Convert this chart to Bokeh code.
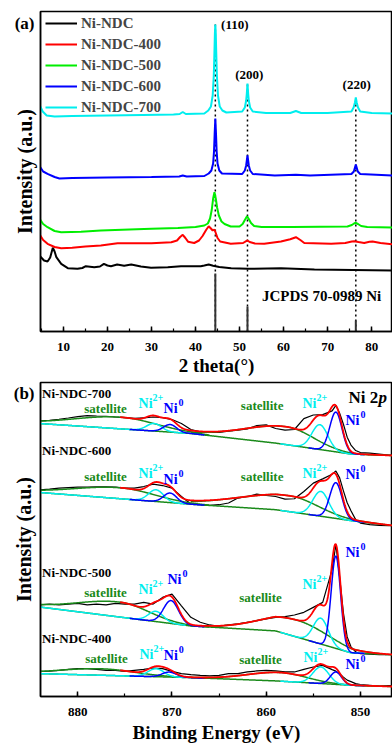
import numpy as np
from bokeh.plotting import figure
from bokeh.models import (Range1d, SingleIntervalTicker, FixedTicker, Legend,
                          LegendItem, ColumnDataSource)
from bokeh.layouts import column
from bokeh.embed import file_html
from bokeh.resources import INLINE
from bokeh.core.properties import value

FONT = "Liberation Serif"

# ======================= (a) XRD data =======================
xrd_names = ["Ni-NDC", "Ni-NDC-400", "Ni-NDC-500", "Ni-NDC-600", "Ni-NDC-700"]
xrd_colors = ["#000000", "#FF0000", "#00EE00", "#0000FF", "#00EEEE"]

tt_ndc = [4.75, 5.6, 6.4, 7.0, 7.6, 8.0, 8.4, 9.5, 11.0, 13.2, 14.3, 15.1, 17.0, 18.3, 19.2, 20.0,
          20.8, 22.2, 23.8, 25.4, 27.6, 29.9, 33.7, 36.7, 41.2, 42.0, 43.0, 44.0, 45.4, 48.1, 51.9,
          59.4, 67.0, 85.0]
int_ndc = [75, 71, 70, 74, 83.7, 80, 74.3, 67.7, 63.3, 62.7, 63.5, 65.3, 64.3, 65, 67.7, 66,
           65.3, 67, 65.7, 67, 65, 63.7, 64.3, 65.3, 65.3, 66, 67, 65.8, 64.5, 63.3, 62.7,
           63.3, 62, 61]

tt_400 = [4.75, 5.4, 6.4, 8.0, 9.5, 12, 15, 18.5, 22.3, 30, 34.5, 35.8, 36.5, 37.1, 37.7, 38.3,
          39.7, 40.8, 41.6, 42.4, 43.0, 43.5, 43.9, 44.3, 44.6, 45.0, 45.6, 48, 50.8, 51.5, 51.8,
          52.3, 53.5, 55.6, 59.4, 61.5, 62.8, 63.8, 64.7, 70.8, 74, 75.5, 76.1, 77, 78.3, 79.5,
          80.2, 82, 85]
int_400 = [96, 91.5, 87.7, 84.5, 83.3, 83.8, 85, 86, 88.3, 88.3, 89.3, 91, 94.5, 96.7, 93.5, 89.8,
           88.5, 91, 95.5, 101.5, 105.3, 103, 101, 102, 98.5, 93.5, 90, 87.7, 88.5, 90.3, 91,
           89.5, 88, 87.7, 90, 92.3, 94.3, 91.5, 88.5, 87.7, 88.5, 90, 90.3, 89.5, 88.5, 89.8,
           90, 88.5, 87]

tt_500 = [4.75, 5.4, 6.4, 8, 9.5, 14, 18.5, 25, 30, 36, 40, 42, 42.8, 43.3, 43.7, 44.0, 44.3,
          44.6, 44.9, 45.3, 45.9, 46.6, 48, 50.0, 50.7, 51.2, 51.7, 52.1, 52.6, 53.3, 55, 62,
          74.5, 75.5, 76.0, 76.4, 76.9, 77.6, 79, 85]
int_500 = [111.7, 107.5, 104.3, 100.5, 99.3, 99.8, 101, 102, 102.7, 103.5, 104.5, 106, 108, 113,
           122, 133, 139.3, 133, 124, 116, 110, 107.5, 105, 105, 107.5, 111.5, 115.3, 112.5,
           108.5, 105.5, 104.5, 104.5, 105, 106.5, 108, 108.7, 107.5, 105.5, 104.5, 104]

tt_600 = [4.75, 5.4, 6.4, 8, 9.1, 12, 20, 30, 36.3, 37.1, 38, 42, 43.0, 43.6, 44.0, 44.2, 44.35,
          44.5, 44.65, 44.8, 45.0, 45.4, 46.0, 50.6, 51.2, 51.5, 51.8, 52.1, 52.4, 53.0, 58, 62.8,
          66, 75.4, 75.95, 76.4, 76.85, 77.4, 85]
int_600 = [164.3, 160, 157.7, 154.5, 153, 153.5, 154, 154.5, 155, 156, 155, 155.5, 158, 161, 168,
           180, 198, 213, 198, 180, 168, 161, 158, 157.5, 161, 166, 176, 166, 161, 157.5, 156,
           156.7, 156, 157.5, 160, 167, 160, 157.5, 156]

tt_700 = [4.75, 5.3, 6.2, 8, 12, 20, 28, 35, 36.4, 37.1, 37.8, 42, 42.9, 43.5, 43.9, 44.15, 44.3,
          44.4, 44.5, 44.6, 44.7, 44.85, 45.1, 45.5, 46.1, 47, 50.6, 51.2, 51.5, 51.65, 51.8,
          51.95, 52.1, 52.4, 53.0, 56, 61.5, 62.8, 64, 70, 75.4, 75.9, 76.2, 76.4, 76.6, 76.9,
          77.4, 80, 85]
int_700 = [225, 220, 216, 215, 215.5, 216, 216.5, 217, 217.5, 219.5, 217.5, 218, 221, 225, 236,
           256, 280, 298, 307, 298, 280, 256, 236, 225, 221, 219, 220, 224, 231, 238, 248, 238,
           231, 224, 220, 218.5, 218.5, 220.5, 218.5, 218.5, 220, 224, 229, 234, 229, 224, 220,
           218.5, 218]

hkl_labels = ["(110)", "(200)", "(220)"]
hkl_pos = [44.5, 51.8, 76.4]
hkl_top = [307, 248, 234]          # top of the dotted guide lines
jcpds_int = [58, 25, 11]           # JCPDS 70-0989 Ni reference sticks

# ======================= (b) XPS data =======================
be_raw = [884, 883, 882, 881, 880, 879, 878, 877, 876, 875, 874, 873, 872, 871, 870, 869, 868,
          867, 866, 865, 864, 863, 862, 861, 860, 859, 858, 857, 856, 855, 854, 853, 852.6,
          852.2, 851.8, 851.4, 851, 850.5, 850, 849, 848, 847, 846.5]
raw_700 = [277.3, 278, 279, 280.3, 281.7, 282.7, 282.3, 282, 281.3, 280.7, 280, 280.3, 281.3,
           280.7, 278.7, 274.7, 268.7, 266.3, 265.7, 265.7, 267, 268, 269.3, 272.7, 273.3, 269.7,
           268, 268.7, 279.7, 283.3, 283.7, 287.5, 293, 285, 274, 261, 253, 247.5, 245.5, 245,
           244, 243, 243]
raw_600 = [208, 208.7, 209.7, 210.3, 210.7, 210.7, 211, 211, 210.7, 209.7, 209.7, 211.3, 213.7,
           212.3, 209.7, 201.3, 193.7, 193, 192.3, 193, 194.7, 199.7, 201.3, 203.7, 202.3, 201.3,
           198.7, 199, 206.3, 214.7, 219, 223.7, 227, 220, 207, 195, 187, 178, 174.5, 173,
           172.3, 172, 172]
raw_500 = [92.3, 93, 92.3, 93, 93.7, 92.3, 93, 92.3, 93.7, 93, 93, 94.7, 93, 99.7, 103, 91.3,
           79.7, 74.7, 72, 70.7, 72, 73, 74.7, 76.3, 78, 79.7, 80.3, 82, 84.7, 89.7, 94.7, 128,
           153, 120, 84, 60, 50, 45, 43, 42.5, 42, 42, 42]
raw_400 = [25.3, 25.5, 26.3, 27.3, 28, 28, 27.3, 26.3, 26.3, 25.3, 26.3, 27.3, 28.7, 28, 25.3,
           23, 22, 21.3, 20.7, 21.3, 23, 23, 24.7, 25.7, 26.3, 25.7, 24.7, 24.7, 27.3, 29.7, 31.3,
           27, 25.5, 23, 19.5, 16.5, 15, 13, 12, 11.3, 10.5, 11, 11]

# Shirley-type background (binding energy nodes, intensity)
bg_be = [884, 868, 859, 851, 846.5]
bg_700 = [274.7, 264.7, 255, 244, 242.5]
bg_600 = [205.3, 193.5, 188, 177, 172]
bg_500 = [90, 71, 66, 44, 42]
bg_400 = [23, 19, 15.7, 11.3, 10]

# Fitted components: Ni0 2p3/2, Ni2+ 2p3/2, sat 2p3/2, Ni0 2p1/2, Ni2+ 2p1/2, sat 2p1/2
comp_kind = ["Ni0", "Ni2+", "sat", "Ni0", "Ni2+", "sat"]
cen_700 = [852.6, 854.3, 857.8, 870.2, 871.9, 875.5]
hgt_700 = [40, 25, 18, 7.6, 7.6, 11.7]
sgl_700 = [0.65, 0.85, 2.8, 0.7, 0.8, 3.8]
sgh_700 = [0.65, 0.85, 4.5, 0.7, 0.8, 4.8]
cen_600 = [852.6, 854.2, 857.5, 870.2, 871.7, 875.5]
hgt_600 = [36, 25, 16, 9.6, 11.8, 11]
sgl_600 = [0.65, 0.85, 3.0, 0.7, 0.8, 3.6]
sgh_600 = [0.65, 0.85, 5.5, 0.7, 0.8, 4.8]
cen_500 = [852.6, 854.2, 856.7, 870.1, 871.7, 875.5]
hgt_500 = [93, 26, 17, 23, 10.3, 15]
sgl_500 = [0.5, 0.8, 3.4, 0.8, 0.8, 3.0]
sgh_500 = [0.5, 0.8, 3.9, 0.8, 0.8, 4.5]
cen_400 = [852.6, 854.2, 858.5, 870.3, 871.7, 877.5]
hgt_400 = [12.5, 16.6, 8.7, 5, 8, 6.5]
sgl_400 = [0.6, 0.85, 2.8, 0.75, 0.85, 3.5]
sgh_400 = [0.6, 0.85, 3.5, 0.75, 0.85, 4.5]

xps_names = ["Ni-NDC-700", "Ni-NDC-600", "Ni-NDC-500", "Ni-NDC-400"]
name_y = [304.7, 248, 124.7, 58]
sat_lab_be = [877.05, 860.43, 877.05, 860.43, 877.05, 860.6, 876.95, 860.6]
sat_lab_y = [290, 293, 221.3, 221.3, 104.7, 99.7, 38.7, 37.3]
ni2_lab_be = [873.55, 856.15, 873.55, 856.15, 873.55, 856.15, 873.45, 856.05]
ni2_lab_y = [294.7, 295, 224.7, 224.7, 108, 113, 42, 39.7]
ni0_lab_be = [870.9, 851.58, 870.9, 851.58, 870.48, 851.58, 870.87, 851.58]
ni0_lab_y = [289.7, 278, 218, 223, 118, 144.7, 41.3, 32]

# ======================= styling helpers =======================
C_BLUE, C_CYAN, C_GREEN, C_RED = "#0000FF", "#00EEEE", "#1A8A1A", "#FF0000"
comp_color = {"Ni0": C_BLUE, "Ni2+": C_CYAN, "sat": C_GREEN}
win_lo = [849.5, 849.5, 848.0, 866.5, 868.5, 866.0]
win_hi = [855.5, 858.5, 868.0, 874.5, 884.0, 884.0]


def style(p, xlab, ylab, label_standoff, title_standoff, panel_tag, tag_y):
    p.xgrid.visible = False
    p.ygrid.visible = False
    p.outline_line_color = "black"
    p.outline_line_width = 1.5
    p.outline_line_alpha = 1.0
    for ax in p.xaxis:
        ax.axis_line_width = 1.5
        ax.major_tick_in = 5
        ax.major_tick_out = 0
        ax.minor_tick_in = 3
        ax.minor_tick_out = 0
        ax.major_tick_line_width = 1.5
        ax.minor_tick_line_width = 1.2
        ax.major_label_text_font = FONT
        ax.major_label_text_font_style = "bold"
        ax.major_label_text_font_size = "13px"
        ax.major_label_text_color = "black"
        ax.major_label_standoff = label_standoff
        ax.axis_label = xlab
        ax.axis_label_text_font = FONT
        ax.axis_label_text_font_style = "bold"
        ax.axis_label_text_font_size = "19px"
        ax.axis_label_text_color = "black"
        ax.axis_label_standoff = title_standoff
    for ax in p.yaxis:
        # the panel tag "(a)"/"(b)" is shown as the single label of the left axis
        ax.ticker = FixedTicker(ticks=[tag_y])
        ax.major_label_overrides = {tag_y: panel_tag}
        ax.major_tick_line_color = None
        ax.minor_tick_line_color = None
        ax.major_tick_in = 0
        ax.major_tick_out = 0
        ax.minor_tick_in = 0
        ax.minor_tick_out = 0
        ax.major_label_standoff = 6
        ax.major_label_text_font = FONT
        ax.major_label_text_font_style = "bold"
        ax.major_label_text_font_size = "17px"
        ax.major_label_text_color = "black"
        ax.axis_line_width = 1.5
        ax.axis_label = ylab
        ax.axis_label_text_font = FONT
        ax.axis_label_text_font_style = "bold"
        ax.axis_label_text_font_size = "20px"
        ax.axis_label_text_color = "black"
        ax.axis_label_standoff = -24


def txt(p, x, y, s, size, color="black", style_="bold", align="left", xo=0, yo=0):
    src = ColumnDataSource(dict(x=x, y=y, t=s))
    p.text(x="x", y="y", text="t", source=src, text_font=value(FONT), text_font_size=size,
           text_font_style=style_, text_color=color, text_align=align,
           text_baseline="middle", x_offset=xo, y_offset=yo)


# ======================= panel (a) =======================
p1 = figure(width=392, height=378, x_range=Range1d(4.8, 84.73), y_range=Range1d(0, 320),
            output_backend="svg", toolbar_location=None, min_border_left=40,
            min_border_right=0, min_border_top=11, min_border_bottom=47)
p1.xaxis.ticker = SingleIntervalTicker(interval=10, num_minor_ticks=2)
style(p1, "2 theta(°)", "Intensity (a.u.)", 11, 1, "(a)", 308)

p1.segment(x0=hkl_pos, y0=[0] * 3, x1=hkl_pos, y1=hkl_top, line_color="black",
           line_width=1.5, line_dash="2 3")
p1.segment(x0=hkl_pos, y0=[0] * 3, x1=hkl_pos, y1=jcpds_int, line_color="#333333",
           line_width=2)

xrd_series = [(tt_ndc, int_ndc), (tt_400, int_400), (tt_500, int_500), (tt_600, int_600),
              (tt_700, int_700)]
items = []
for (tt, yy), nm, col in zip(xrd_series, xrd_names, xrd_colors):
    r = p1.line(tt, yy, line_color=col, line_width=2)
    items.append(LegendItem(label=nm, renderers=[r]))

leg = Legend(items=items, location=(5, 214), padding=0, margin=0, spacing=1,
             glyph_width=32, glyph_height=20, label_height=20, label_standoff=4,
             label_text_font=FONT, label_text_font_style="bold", label_text_font_size="15px",
             border_line_alpha=0, background_fill_alpha=0)
p1.add_layout(leg)

txt(p1, [hkl_pos[0] + 1.3], [hkl_top[0]], [hkl_labels[0]], "13px")
txt(p1, [hkl_pos[1] + 0.4, hkl_pos[2] + 0.2], [257, 247], hkl_labels[1:], "13px", align="center")
txt(p1, [55.1], [36], ["JCPDS 70-0989 Ni"], "15px")

# ======================= panel (b) =======================
p2 = figure(width=392, height=367, x_range=Range1d(883.96, 846.59), y_range=Range1d(0, 316),
            output_backend="svg", toolbar_location=None, min_border_left=40,
            min_border_right=0, min_border_top=4, min_border_bottom=47)
p2.xaxis.ticker = SingleIntervalTicker(interval=10, num_minor_ticks=2)
style(p2, "Binding Energy (eV)", "Intensity (a.u.)", 11, 3, "(b)", 305)

rows = [
    (raw_700, bg_700, cen_700, hgt_700, sgl_700, sgh_700),
    (raw_600, bg_600, cen_600, hgt_600, sgl_600, sgh_600),
    (raw_500, bg_500, cen_500, hgt_500, sgl_500, sgh_500),
    (raw_400, bg_400, cen_400, hgt_400, sgl_400, sgh_400),
]
xf = np.arange(846.5, 884.0001, 0.05)
bgx = np.array(bg_be[::-1])

for raw, bg, cen, hgt, sgl, sgh in rows:
    base = np.interp(xf, bgx, np.array(bg[::-1]))
    comps = []
    for c, h, sl, sh in zip(cen, hgt, sgl, sgh):
        sig = np.where(xf >= c, sh, sl)
        comps.append(h * np.exp(-0.5 * ((xf - c) / sig) ** 2))
    env = base + np.sum(comps, axis=0)

    p2.line(be_raw, raw, line_color="black", line_width=1.2)
    p2.line(xf, base, line_color=C_GREEN, line_width=1.5)
    for k in [2, 5, 4, 1, 3, 0]:
        m = (xf >= win_lo[k]) & (xf <= win_hi[k])
        p2.line(xf[m], (base + comps[k])[m], line_color=comp_color[comp_kind[k]], line_width=1.5)
    me = xf <= 875.5
    p2.line(xf[me], env[me], line_color=C_RED, line_width=1.8)

txt(p2, [883.8] * 4, name_y, xps_names, "13px")
txt(p2, sat_lab_be, sat_lab_y, ["satellite"] * 8, "13px", color=C_GREEN, align="center")
txt(p2, ni2_lab_be, ni2_lab_y, ["Ni"] * 8, "14px", color=C_CYAN)
txt(p2, ni2_lab_be, ni2_lab_y, ["2+"] * 8, "10px", color=C_CYAN, xo=14, yo=-6)
txt(p2, ni0_lab_be, ni0_lab_y, ["Ni"] * 8, "14px", color=C_BLUE)
txt(p2, ni0_lab_be, ni0_lab_y, ["0"] * 8, "10px", color=C_BLUE, xo=15, yo=-6)
txt(p2, [851.26], [301.3], ["Ni 2"], "17px")
txt(p2, [851.26], [301.3], ["p"], "17px", style_="bold italic", xo=30)

layout = column(p1, p2, spacing=0)
open("out.html", "w").write(file_html(layout, INLINE))
